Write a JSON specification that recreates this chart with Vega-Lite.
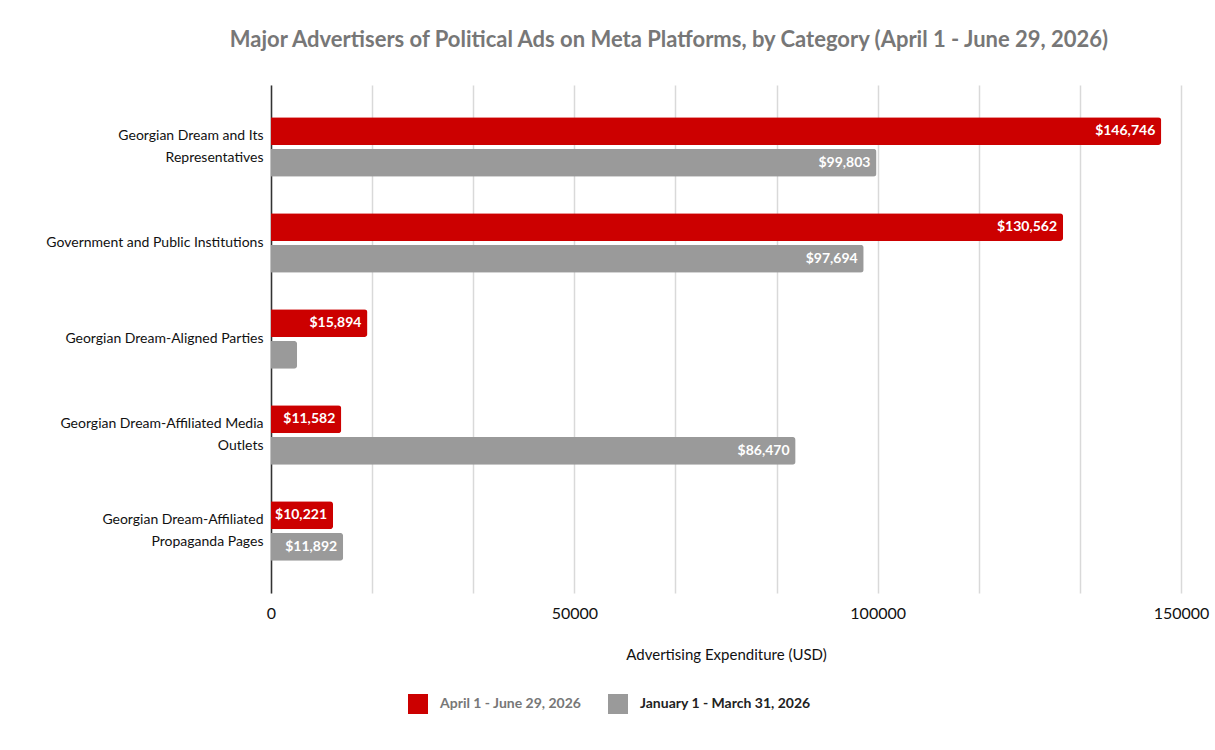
{
  "$schema": "https://vega.github.io/schema/vega-lite/v6.json",
  "autosize": {"type": "none"},
  "width": 910,
  "height": 508,
  "padding": {"left": 271, "top": 85, "right": 34, "bottom": 157},
  "background": "white",
  "config": {
    "font": "Lato",
    "view": {"stroke": null}
  },
  "title": {
    "text": "Major Advertisers of Political Ads on Meta Platforms, by Category (April 1 - June 29, 2026)",
    "fontSize": 22,
    "fontWeight": "bold",
    "color": "#777777",
    "offset": 33,
    "dx": -57
  },
  "data": {
    "values": [
      {"category": "Georgian Dream and Its Representatives", "period": "April 1 - June 29, 2026", "spend": 146746},
      {"category": "Georgian Dream and Its Representatives", "period": "January 1 - March 31, 2026", "spend": 99803},
      {"category": "Government and Public Institutions", "period": "April 1 - June 29, 2026", "spend": 130562},
      {"category": "Government and Public Institutions", "period": "January 1 - March 31, 2026", "spend": 97694},
      {"category": "Georgian Dream-Aligned Parties", "period": "April 1 - June 29, 2026", "spend": 15894},
      {"category": "Georgian Dream-Aligned Parties", "period": "January 1 - March 31, 2026", "spend": 4300},
      {"category": "Georgian Dream-Affiliated Media Outlets", "period": "April 1 - June 29, 2026", "spend": 11582},
      {"category": "Georgian Dream-Affiliated Media Outlets", "period": "January 1 - March 31, 2026", "spend": 86470},
      {"category": "Georgian Dream-Affiliated Propaganda Pages", "period": "April 1 - June 29, 2026", "spend": 10221},
      {"category": "Georgian Dream-Affiliated Propaganda Pages", "period": "January 1 - March 31, 2026", "spend": 11892}
    ]
  },
  "encoding": {
    "y": {
      "field": "category",
      "type": "nominal",
      "sort": [
        "Georgian Dream and Its Representatives",
        "Government and Public Institutions",
        "Georgian Dream-Aligned Parties",
        "Georgian Dream-Affiliated Media Outlets",
        "Georgian Dream-Affiliated Propaganda Pages"
      ],
      "scale": {"paddingInner": 0.38, "paddingOuter": 0.335},
      "axis": {
        "title": null,
        "domain": true,
        "domainColor": "#333333",
        "domainWidth": 1.5,
        "ticks": false,
        "labelPadding": 8,
        "labelFontSize": 14,
        "labelColor": "#111111",
        "labelLineHeight": 22,
        "labelLimit": 260,
        "labelOffset": {"condition": {"test": "length(datum.value) > 36", "value": -11}, "value": 0},
        "labelExpr": "datum.label == 'Georgian Dream and Its Representatives' ? ['Georgian Dream and Its', 'Representatives'] : datum.label == 'Georgian Dream-Affiliated Media Outlets' ? ['Georgian Dream-Affiliated Media', 'Outlets'] : datum.label == 'Georgian Dream-Affiliated Propaganda Pages' ? ['Georgian Dream-Affiliated', 'Propaganda Pages'] : datum.label"
      }
    },
    "yOffset": {
      "field": "period",
      "type": "nominal",
      "sort": ["April 1 - June 29, 2026", "January 1 - March 31, 2026"],
      "scale": {"paddingInner": 0.12}
    },
    "x": {
      "field": "spend",
      "type": "quantitative",
      "scale": {"domain": [0, 150000], "nice": false},
      "axis": {
        "title": "Advertising Expenditure (USD)",
        "titleFontSize": 15,
        "titleFontWeight": "normal",
        "titleColor": "#111111",
        "titlePadding": 26,
        "values": [0, 16666.67, 33333.33, 50000, 66666.67, 83333.33, 100000, 116666.67, 133333.33, 150000],
        "labelExpr": "datum.value % 50000 == 0 ? format(datum.value, 'd') : ''",
        "labelFontSize": 16,
        "labelColor": "#111111",
        "labelPadding": 12,
        "labelFlush": false,
        "ticks": false,
        "domain": false,
        "grid": true,
        "gridColor": "#d9d9d9",
        "gridWidth": 1.5
      }
    }
  },
  "layer": [
    {
      "mark": {"type": "bar", "cornerRadiusEnd": 3},
      "encoding": {
        "color": {
          "field": "period",
          "type": "nominal",
          "scale": {
            "domain": ["April 1 - June 29, 2026", "January 1 - March 31, 2026"],
            "range": ["#cc0000", "#9a9a9a"]
          },
          "legend": {
            "title": null,
            "orient": "none",
            "direction": "horizontal",
            "legendX": 137,
            "legendY": 609,
            "symbolType": "square",
            "symbolSize": 400,
            "symbolStrokeWidth": 0,
            "symbolOpacity": 1,
            "labelFontSize": 14,
            "labelFontWeight": "bold",
            "labelOffset": 12,
            "columnPadding": 26,
            "labelLimit": 300,
            "encode": {
              "labels": {
                "update": {
                  "fill": {"signal": "datum.value == 'April 1 - June 29, 2026' ? '#777777' : '#222222'"}
                }
              }
            }
          }
        }
      }
    },
    {
      "transform": [{"filter": "datum.spend > 8000"}],
      "mark": {
        "type": "text",
        "align": "right",
        "baseline": "middle",
        "dx": -6,
        "fontSize": 14,
        "fontWeight": "bold",
        "color": "white"
      },
      "encoding": {
        "text": {"field": "spend", "type": "quantitative", "format": "$,d"}
      }
    }
  ]
}
